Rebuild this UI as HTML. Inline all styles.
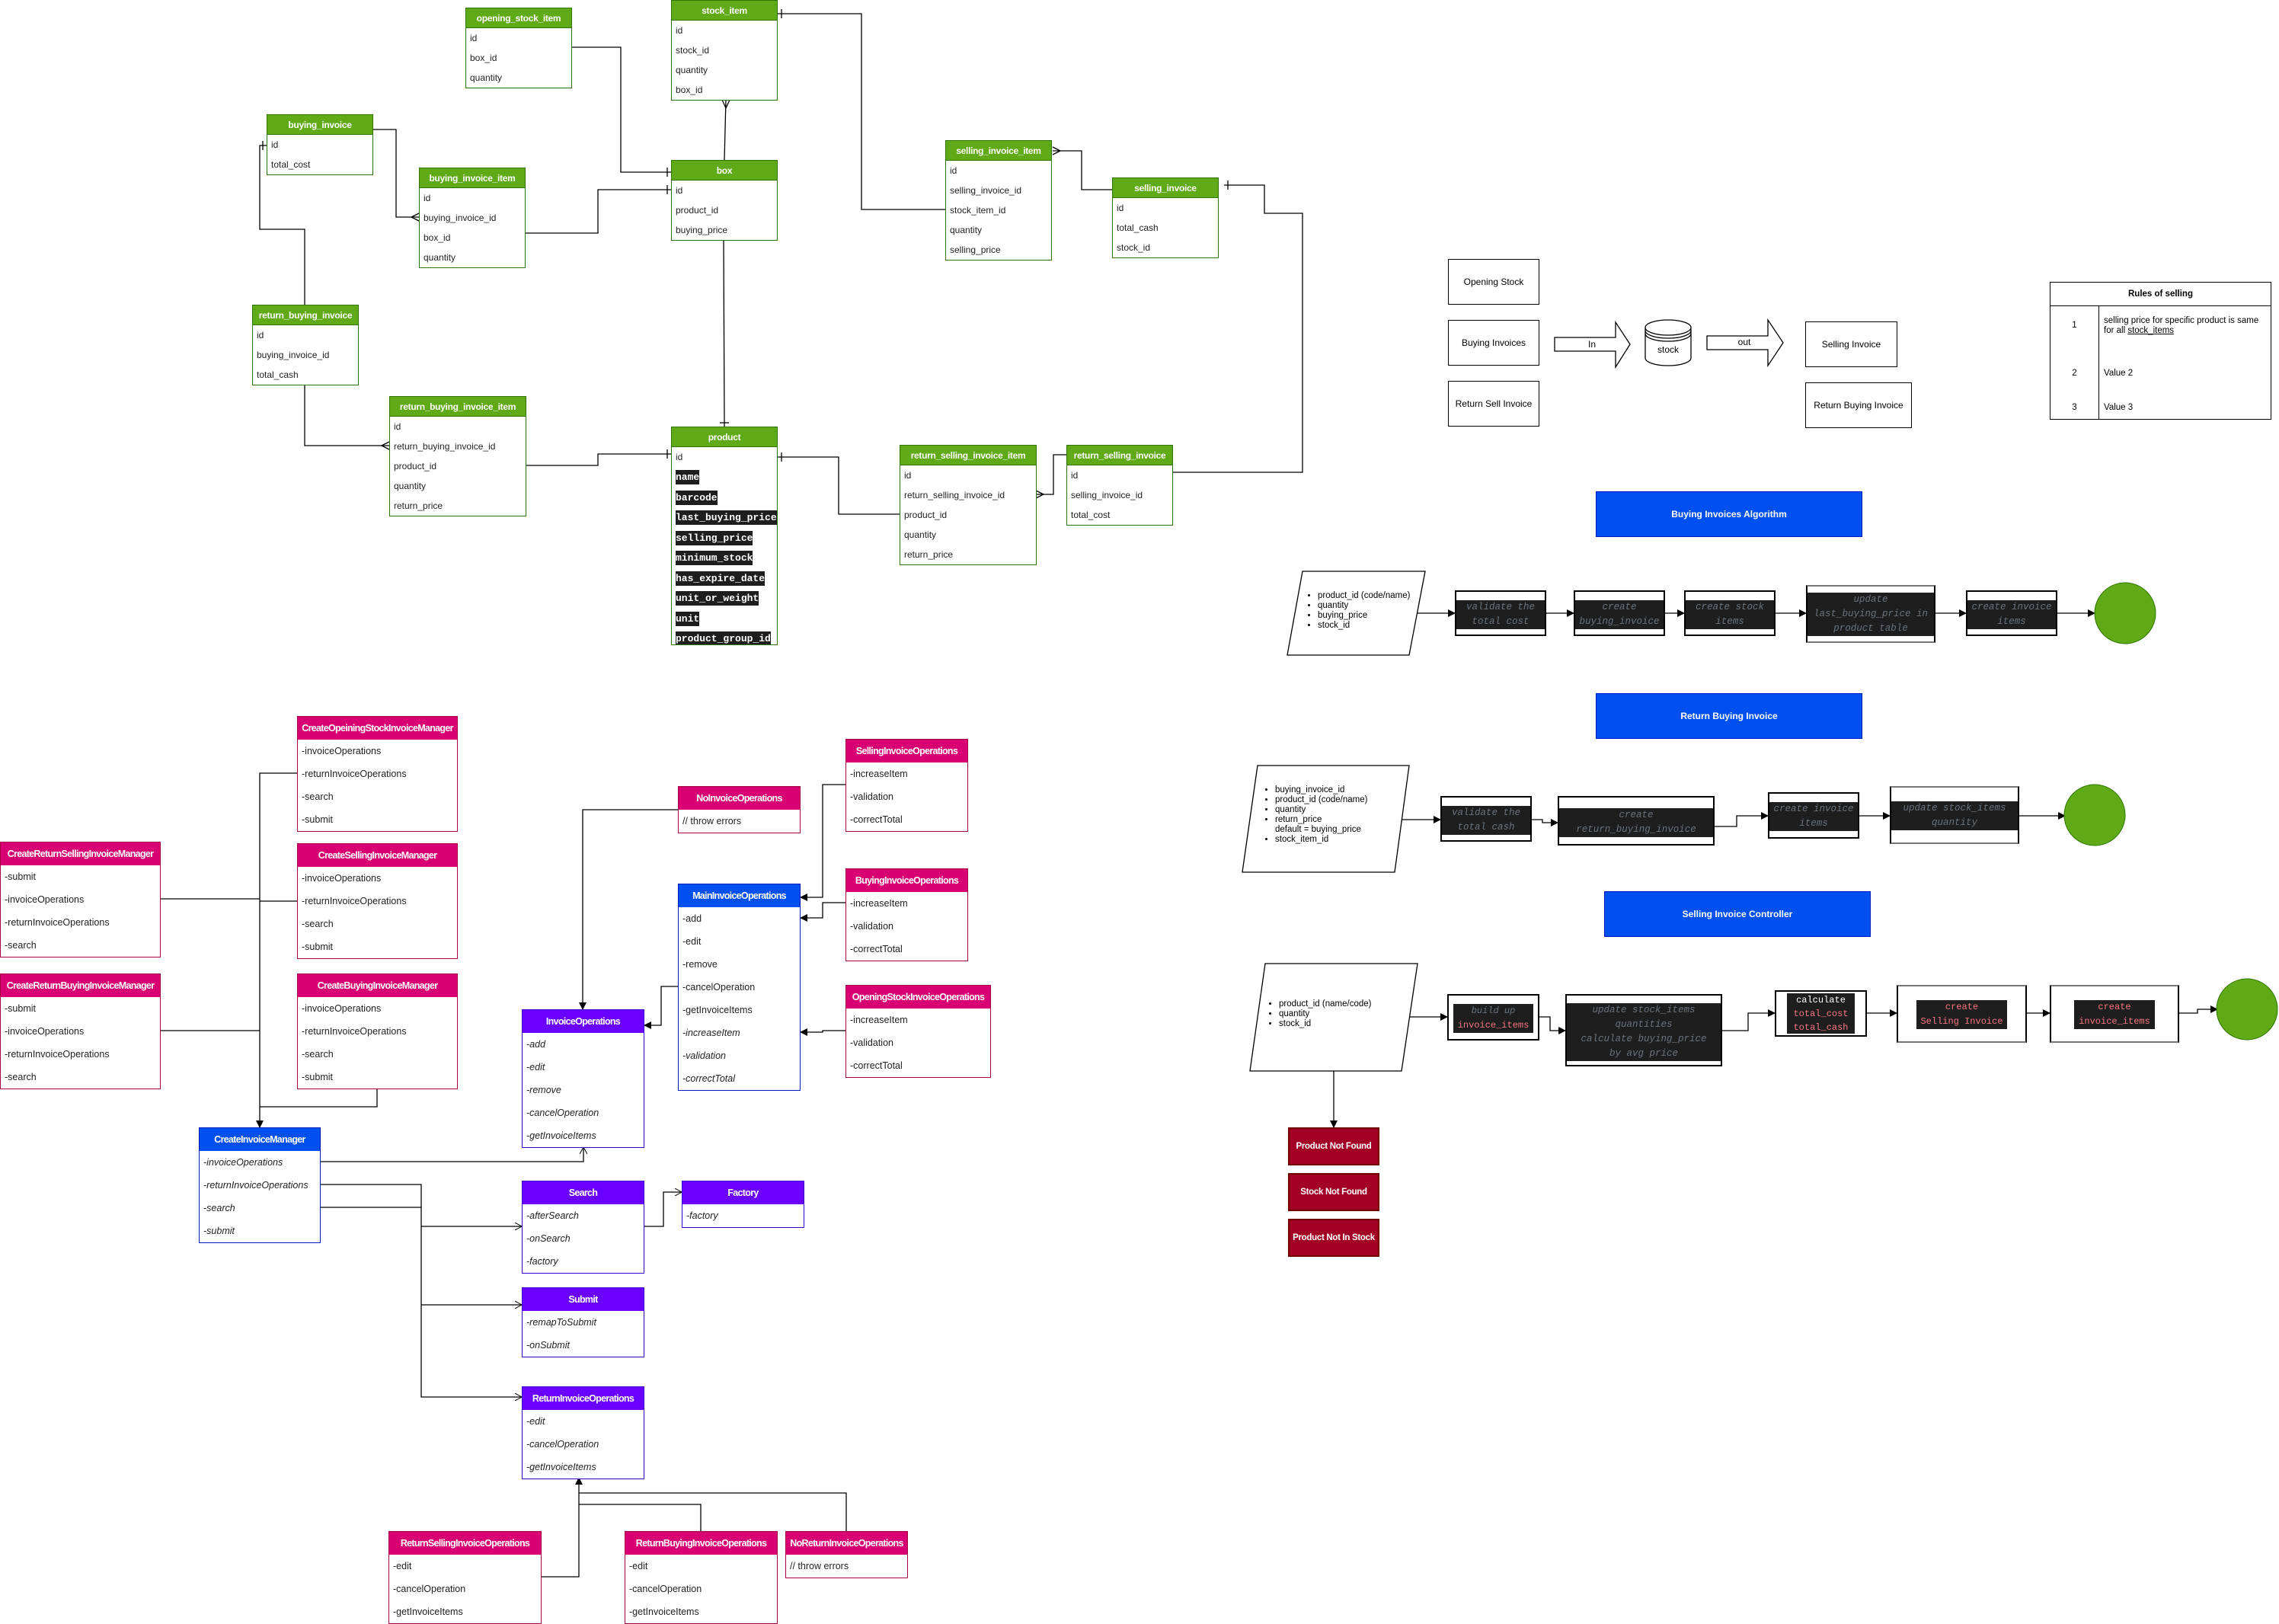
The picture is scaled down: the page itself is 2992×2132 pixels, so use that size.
<!DOCTYPE html>
<html><head><meta charset="utf-8"><style>
body{margin:0;width:2992px;height:2131px;position:relative;background:#fff;font-family:"Liberation Sans",Arial,sans-serif;overflow:hidden}
.a{position:absolute;box-sizing:border-box}
.t{position:absolute;box-sizing:border-box;border:1px solid #2D7600;background:#fff;font-size:12px;color:#222}
.t .h{height:26px;line-height:26px;background:#60a917;color:#fff;font-weight:bold;text-align:center;border-bottom:1px solid #2D7600;box-sizing:border-box;white-space:nowrap;letter-spacing:-0.3px}
.t .r{height:26px;line-height:26px;padding-left:5px;white-space:nowrap}
.t .r span{background:#1e1e1e;color:#fff;font-family:"Liberation Mono",monospace;font-weight:bold;font-size:13px;padding:2px 0}
.c{position:absolute;box-sizing:border-box;border:1px solid;background:#fff;font-size:12.5px;color:#222}
.c .h{height:30px;line-height:30px;color:#fff;font-weight:bold;text-align:center;white-space:nowrap;box-sizing:border-box;font-size:12.5px;letter-spacing:-0.7px;overflow:hidden}
.c .r{height:30px;line-height:30px;padding-left:5px;white-space:nowrap}
.i{font-style:italic}
.m{border-color:#A50040}.m .h{background:#d80073}
.b{border-color:#001DBC}.b .h{background:#0050ef}
.p{border-color:#3700CC}.p .h{background:#6a00ff}
.bx{position:absolute;box-sizing:border-box;border:1px solid #000;background:#fff;display:flex;align-items:center;justify-content:center;text-align:center;font-size:12px}
.fb{position:absolute;box-sizing:border-box;border:2px solid #000;background:#fff}
.fb .d{position:absolute;left:0;right:0;background:#1e1e1e;display:flex;align-items:center;justify-content:center;text-align:center;font-family:"Liberation Mono",monospace;font-style:italic;font-size:12.5px;line-height:22px;color:#6a737d;white-space:nowrap;overflow:hidden}
.blue{position:absolute;box-sizing:border-box;background:#0050ef;border:1px solid #001DBC;color:#fff;font-size:12px;font-weight:bold;display:flex;align-items:center;justify-content:center}
.red{position:absolute;box-sizing:border-box;background:#a20025;border:2px solid #6F0000;color:#fff;font-size:11.5px;font-weight:bold;display:flex;align-items:center;justify-content:center;white-space:nowrap;letter-spacing:-0.3px}
ul{margin:0;padding-left:18px;font-size:11.5px;line-height:13px}
.pk{color:#f97583;font-style:normal}
</style></head><body>

<svg class="a" style="left:0;top:0" width="2992" height="2131">
<defs>
<marker id="f" markerWidth="10" markerHeight="10" refX="9" refY="5" orient="auto" markerUnits="userSpaceOnUse"><path d="M0,0 L10,5 L0,10 z" fill="#000"/></marker>
<marker id="o" markerWidth="10" markerHeight="10" refX="9" refY="5" orient="auto" markerUnits="userSpaceOnUse"><path d="M0,0 L9,5 L0,10" fill="none" stroke="#000"/></marker>
</defs>
<g fill="none" stroke="#000" stroke-width="1.3">
<path d="M750,62 H815 V226 H881"/><path d="M876,220 V232"/>
<path d="M951,210 L953,130"/><path d="M953,142 L948,131 M953,142 L958,131"/>
<path d="M490,170 H520 V285 H550"/><path d="M540,285 L550,280 M540,285 L550,290"/>
<path d="M690,306 H785 V249 H881"/><path d="M876,243 V255"/>
<path d="M400,400 V301 H341 V191 H350"/><path d="M345,185 V197"/>
<path d="M950,314 L951,560"/><path d="M945,555 H957"/>
<path d="M400,504 V585 H511"/><path d="M501,585 L511,580 M501,585 L511,590"/>
<path d="M690,611 H785 V596 H881"/><path d="M876,590 V602"/>
<path d="M1020,600 H1101 V675 H1181"/><path d="M1026,594 V606"/>
<path d="M1400,597 H1383 V649 H1360"/><path d="M1370,649 L1360,644 M1370,649 L1360,654"/>
<path d="M1607,243 H1660 V280 H1710 V620 H1540"/><path d="M1612,237 V249"/>
<path d="M1382,198 H1420 V249 H1460"/><path d="M1392,198 L1382,193 M1392,198 L1382,203"/>
<path d="M1241,275 H1131 V18 H1020"/><path d="M1026,12 V24"/>
<path d="M390,1015 H341 V1480" marker-end="url(#f)"/>
<path d="M211,1180 H341"/><path d="M390,1183 H341"/><path d="M211,1353 H341"/>
<path d="M495,1428 V1453 H341"/>
<path d="M420,1525 H766 V1506" marker-end="url(#o)"/>
<path d="M420,1555 H553 V1834 H685" marker-end="url(#o)"/>
<path d="M420,1585 H553"/>
<path d="M553,1610 H685" marker-end="url(#o)"/>
<path d="M553,1713 H685" marker-end="url(#o)"/>
<path d="M845,1610 H871 V1565 H895" marker-end="url(#o)"/>
<path d="M890,1063 H765 V1325" marker-end="url(#f)"/>
<path d="M890,1295 H868 V1346 H846" marker-end="url(#f)"/>
<path d="M1110,1030 H1080 V1178 H1051" marker-end="url(#f)"/>
<path d="M1110,1185 H1080 V1205 H1051" marker-end="url(#f)"/>
<path d="M1110,1353 H1080 V1355 H1051" marker-end="url(#f)"/>
<path d="M711,2070 H760 V1940" marker-end="url(#f)"/>
<path d="M920,2010 V1975 H760"/>
<path d="M1111,2010 V1960 H760"/>
<path d="M1860,805 H1910" marker-end="url(#f)"/>
<path d="M2030,805 H2066" marker-end="url(#f)"/>
<path d="M2185,805 H2211" marker-end="url(#f)"/>
<path d="M2330,805 H2371" marker-end="url(#f)"/>
<path d="M2540,805 H2581" marker-end="url(#f)"/>
<path d="M2700,805 H2750" marker-end="url(#f)"/>
<path d="M1841,1076 H1891" marker-end="url(#f)"/>
<path d="M2010,1076 H2025 V1080 H2045" marker-end="url(#f)"/>
<path d="M2250,1085 H2280 V1071 H2321" marker-end="url(#f)"/>
<path d="M2440,1071 H2481" marker-end="url(#f)"/>
<path d="M2650,1071 H2711" marker-end="url(#f)"/>
<path d="M1851,1335 H1900" marker-end="url(#f)"/>
<path d="M2020,1335 H2035 V1353 H2055" marker-end="url(#f)"/>
<path d="M2260,1353 H2295 V1330 H2330" marker-end="url(#f)"/>
<path d="M2450,1330 H2490" marker-end="url(#f)"/>
<path d="M2660,1330 H2691" marker-end="url(#f)"/>
<path d="M2860,1330 H2885 V1325 H2911" marker-end="url(#f)"/>
<path d="M1751,1406 V1480" marker-end="url(#f)"/>
</g>
<g fill="#fff" stroke="#000" stroke-width="1.3">
<polygon points="1710,750 1871,750 1850,860 1690,860"/>
<polygon points="1651,1005 1850,1005 1831,1145 1631,1145"/>
<polygon points="1661,1265 1861,1265 1840,1406 1641,1406"/>
<polygon points="2041,443 2121,443 2121,423 2140,452 2121,482 2121,461 2041,461"/>
<polygon points="2241,441 2321,441 2321,420 2341,450 2321,480 2321,459 2241,459"/>
<path d="M2160,430 V470 A30,10 0 0 0 2220,470 V430 A30,10 0 0 0 2160,430 A30,10 0 0 0 2220,430"/>
<path d="M2160,434 A30,10 0 0 0 2220,434 M2160,438 A30,10 0 0 0 2220,438" fill="none"/>
</g>
<g fill="#60a917" stroke="#2D7600">
<ellipse cx="2790" cy="805" rx="40" ry="40"/>
<ellipse cx="2750" cy="1070" rx="40" ry="40"/>
<ellipse cx="2950" cy="1325" rx="40" ry="40"/>
</g>
<g font-family="Liberation Sans, Arial, sans-serif" font-size="12" fill="#000" text-anchor="middle">
<text x="2090" y="456">In</text><text x="2290" y="453">out</text><text x="2190" y="463">stock</text>
</g>
</svg>

<div class="t" style="left:611px;top:10px;width:140px"><div class="h">opening_stock_item</div><div class="r">id</div><div class="r">box_id</div><div class="r">quantity</div></div>
<div class="t" style="left:881px;top:0;width:140px"><div class="h">stock_item</div><div class="r">id</div><div class="r">stock_id</div><div class="r">quantity</div><div class="r">box_id</div></div>
<div class="t" style="left:350px;top:150px;width:140px"><div class="h">buying_invoice</div><div class="r">id</div><div class="r">total_cost</div></div>
<div class="t" style="left:550px;top:220px;width:140px"><div class="h">buying_invoice_item</div><div class="r">id</div><div class="r">buying_invoice_id</div><div class="r">box_id</div><div class="r">quantity</div></div>
<div class="t" style="left:881px;top:210px;width:140px"><div class="h">box</div><div class="r">id</div><div class="r">product_id</div><div class="r">buying_price</div></div>
<div class="t" style="left:331px;top:400px;width:140px"><div class="h">return_buying_invoice</div><div class="r">id</div><div class="r">buying_invoice_id</div><div class="r">total_cash</div></div>
<div class="t" style="left:511px;top:520px;width:180px"><div class="h">return_buying_invoice_item</div><div class="r">id</div><div class="r">return_buying_invoice_id</div><div class="r">product_id</div><div class="r">quantity</div><div class="r">return_price</div></div>
<div class="t" style="left:881px;top:560px;width:140px;height:287px;overflow:hidden"><div class="h">product</div><div class="r">id</div>
<div class="r" style="height:26.5px"><span>name</span></div><div class="r" style="height:26.5px"><span>barcode</span></div><div class="r" style="height:26.5px"><span>last_buying_price</span></div><div class="r" style="height:26.5px"><span>selling_price</span></div><div class="r" style="height:26.5px"><span>minimum_stock</span></div><div class="r" style="height:26.5px"><span>has_expire_date</span></div><div class="r" style="height:26.5px"><span>unit_or_weight</span></div><div class="r" style="height:26.5px"><span>unit</span></div><div class="r" style="height:26.5px"><span>product_group_id</span></div></div>
<div class="t" style="left:1241px;top:184px;width:140px"><div class="h">selling_invoice_item</div><div class="r">id</div><div class="r">selling_invoice_id</div><div class="r">stock_item_id</div><div class="r">quantity</div><div class="r">selling_price</div></div>
<div class="t" style="left:1460px;top:233px;width:140px"><div class="h">selling_invoice</div><div class="r">id</div><div class="r">total_cash</div><div class="r">stock_id</div></div>
<div class="t" style="left:1181px;top:584px;width:180px"><div class="h">return_selling_invoice_item</div><div class="r">id</div><div class="r">return_selling_invoice_id</div><div class="r">product_id</div><div class="r">quantity</div><div class="r">return_price</div></div>
<div class="t" style="left:1400px;top:584px;width:140px"><div class="h">return_selling_invoice</div><div class="r">id</div><div class="r">selling_invoice_id</div><div class="r">total_cost</div></div>

<div class="bx" style="left:1901px;top:340px;width:120px;height:60px">Opening Stock</div>
<div class="bx" style="left:1901px;top:420px;width:120px;height:60px">Buying Invoices</div>
<div class="bx" style="left:1901px;top:500px;width:120px;height:60px">Return Sell Invoice</div>
<div class="bx" style="left:2370px;top:422px;width:121px;height:60px">Selling Invoice</div>
<div class="bx" style="left:2370px;top:502px;width:140px;height:60px">Return Buying Invoice</div>
<div class="a" style="left:2691px;top:370px;width:291px;height:181px;border:1px solid #000;font-size:11.5px">
<div style="height:30px;line-height:30px;text-align:center;border-bottom:1px solid #000;font-weight:bold">Rules of selling</div>
<div class="a" style="left:63px;top:30px;width:1px;height:150px;background:#000"></div>
<div class="a" style="left:0;top:50px;width:63px;text-align:center">1</div>
<div class="a" style="left:70px;top:44px;width:215px;line-height:13px">selling price for specific product is same for all <u>stock_items</u></div>
<div class="a" style="left:0;top:113px;width:63px;text-align:center">2</div><div class="a" style="left:70px;top:113px">Value 2</div>
<div class="a" style="left:0;top:158px;width:63px;text-align:center">3</div><div class="a" style="left:70px;top:158px">Value 3</div>
</div>

<div class="blue" style="left:2095px;top:645px;width:350px;height:60px">Buying Invoices Algorithm</div>
<div class="a" style="left:1712px;top:776px"><ul><li>product_id (code/name)</li><li>quantity</li><li>buying_price</li><li>stock_id</li></ul></div>
<div class="fb" style="left:1910px;top:775px;width:120px;height:60px"><div class="d" style="top:11px;height:38px;line-height:19px"><div>validate the<br>total cost</div></div></div>
<div class="fb" style="left:2066px;top:775px;width:120px;height:60px"><div class="d" style="top:11px;height:38px;line-height:19px"><div>create<br>buying_invoice</div></div></div>
<div class="fb" style="left:2211px;top:775px;width:120px;height:60px"><div class="d" style="top:11px;height:38px;line-height:19px"><div>create stock<br>items</div></div></div>
<div class="fb" style="left:2371px;top:768px;width:170px;height:76px;border-top-color:#777;border-bottom-color:#777"><div class="d" style="top:8px;height:57px;line-height:19px"><div>update<br>last_buying_price in<br>product table</div></div></div>
<div class="fb" style="left:2581px;top:775px;width:120px;height:60px"><div class="d" style="top:11px;height:38px;line-height:19px"><div>create invoice<br>items</div></div></div>

<div class="blue" style="left:2095px;top:910px;width:350px;height:60px">Return Buying Invoice</div>
<div class="a" style="left:1656px;top:1031px"><ul><li>buying_invoice_id</li><li>product_id (code/name)</li><li>quantity</li><li>return_price<br>default = buying_price</li><li>stock_item_id</li></ul></div>
<div class="fb" style="left:1891px;top:1045px;width:120px;height:60px"><div class="d" style="top:11px;height:38px;line-height:19px"><div>validate the<br>total cash</div></div></div>
<div class="fb" style="left:2045px;top:1045px;width:206px;height:65px"><div class="d" style="top:14px;height:38px;line-height:19px"><div>create<br>return_buying_invoice</div></div></div>
<div class="fb" style="left:2321px;top:1040px;width:120px;height:61px"><div class="d" style="top:11px;height:38px;line-height:19px"><div>create invoice<br>items</div></div></div>
<div class="fb" style="left:2481px;top:1032px;width:170px;height:76px;border-top-color:#777;border-bottom-color:#777"><div class="d" style="top:18px;height:38px;line-height:19px"><div>update stock_items<br>quantity</div></div></div>

<div class="blue" style="left:2106px;top:1170px;width:350px;height:60px">Selling Invoice Controller</div>
<div class="a" style="left:1661px;top:1312px"><ul><li>product_id (name/code)</li><li>quantity</li><li>stock_id</li></ul></div>
<div class="fb" style="left:1900px;top:1305px;width:121px;height:61px"><div class="d" style="left:6px;right:6px;top:11px;height:38px;line-height:19px;font-size:12px"><div>build up<br><span class="pk">invoice_items</span></div></div></div>
<div class="fb" style="left:2055px;top:1305px;width:206px;height:95px"><div class="d" style="top:10px;height:76px;line-height:19px"><div>update stock_items<br>quantities<br>calculate buying_price<br>by avg price</div></div></div>
<div class="fb" style="left:2330px;top:1300px;width:121px;height:61px"><div class="d" style="left:14px;right:14px;top:2px;height:53px;line-height:18px;font-style:normal;font-size:12px"><div><span style="color:#fff">calculate</span><br><span class="pk">total_cost</span><br><span class="pk">total_cash</span></div></div></div>
<div class="fb" style="left:2490px;top:1293px;width:171px;height:76px;border-top-color:#777;border-bottom-color:#777"><div class="d" style="left:24px;right:24px;top:18px;height:38px;line-height:19px;font-style:normal;font-size:12px"><div class="pk">create<br>Selling Invoice</div></div></div>
<div class="fb" style="left:2691px;top:1293px;width:170px;height:76px;border-top-color:#777;border-bottom-color:#777"><div class="d" style="left:30px;right:30px;top:18px;height:38px;line-height:19px;font-style:normal;font-size:12px"><div class="pk">create<br>invoice_items</div></div></div>
<div class="red" style="left:1691px;top:1480px;width:120px;height:50px">Product Not Found</div>
<div class="red" style="left:1691px;top:1540px;width:120px;height:50px">Stock Not Found</div>
<div class="red" style="left:1691px;top:1600px;width:120px;height:50px">Product Not In Stock</div>

<div class="c m" style="left:390px;top:940px;width:211px"><div class="h">CreateOpeiningStockInvoiceManager</div><div class="r">-invoiceOperations</div><div class="r">-returnInvoiceOperations</div><div class="r">-search</div><div class="r">-submit</div></div>
<div class="c m" style="left:390px;top:1107px;width:211px"><div class="h">CreateSellingInvoiceManager</div><div class="r">-invoiceOperations</div><div class="r">-returnInvoiceOperations</div><div class="r">-search</div><div class="r">-submit</div></div>
<div class="c m" style="left:390px;top:1278px;width:211px"><div class="h">CreateBuyingInvoiceManager</div><div class="r">-invoiceOperations</div><div class="r">-returnInvoiceOperations</div><div class="r">-search</div><div class="r">-submit</div></div>
<div class="c m" style="left:0;top:1105px;width:211px"><div class="h">CreateReturnSellingInvoiceManager</div><div class="r">-submit</div><div class="r">-invoiceOperations</div><div class="r">-returnInvoiceOperations</div><div class="r">-search</div></div>
<div class="c m" style="left:0;top:1278px;width:211px"><div class="h">CreateReturnBuyingInvoiceManager</div><div class="r">-submit</div><div class="r">-invoiceOperations</div><div class="r">-returnInvoiceOperations</div><div class="r">-search</div></div>
<div class="c b" style="left:261px;top:1480px;width:160px"><div class="h">CreateInvoiceManager</div><div class="r i">-invoiceOperations</div><div class="r i">-returnInvoiceOperations</div><div class="r i">-search</div><div class="r i">-submit</div></div>
<div class="c p" style="left:685px;top:1325px;width:161px"><div class="h">InvoiceOperations</div><div class="r i">-add</div><div class="r i">-edit</div><div class="r i">-remove</div><div class="r i">-cancelOperation</div><div class="r i">-getInvoiceItems</div></div>
<div class="c p" style="left:685px;top:1550px;width:161px"><div class="h">Search</div><div class="r i">-afterSearch</div><div class="r i">-onSearch</div><div class="r i">-factory</div></div>
<div class="c p" style="left:895px;top:1550px;width:161px"><div class="h">Factory</div><div class="r i">-factory</div></div>
<div class="c p" style="left:685px;top:1690px;width:161px"><div class="h">Submit</div><div class="r i">-remapToSubmit</div><div class="r i">-onSubmit</div></div>
<div class="c p" style="left:685px;top:1820px;width:161px"><div class="h">ReturnInvoiceOperations</div><div class="r i">-edit</div><div class="r i">-cancelOperation</div><div class="r i">-getInvoiceItems</div></div>
<div class="c m" style="left:510px;top:2010px;width:201px"><div class="h">ReturnSellingInvoiceOperations</div><div class="r">-edit</div><div class="r">-cancelOperation</div><div class="r">-getInvoiceItems</div></div>
<div class="c m" style="left:820px;top:2010px;width:201px"><div class="h">ReturnBuyingInvoiceOperations</div><div class="r">-edit</div><div class="r">-cancelOperation</div><div class="r">-getInvoiceItems</div></div>
<div class="c m" style="left:1031px;top:2010px;width:161px"><div class="h">NoReturnInvoiceOperations</div><div class="r">// throw errors</div></div>
<div class="c m" style="left:890px;top:1032px;width:161px"><div class="h">NoInvoiceOperations</div><div class="r">// throw errors</div></div>
<div class="c b" style="left:890px;top:1160px;width:161px"><div class="h">MainInvoiceOperations</div><div class="r">-add</div><div class="r">-edit</div><div class="r">-remove</div><div class="r">-cancelOperation</div><div class="r">-getInvoiceItems</div><div class="r i">-increaseItem</div><div class="r i">-validation</div><div class="r i">-correctTotal</div></div>
<div class="c m" style="left:1110px;top:970px;width:161px"><div class="h">SellingInvoiceOperations</div><div class="r">-increaseItem</div><div class="r">-validation</div><div class="r">-correctTotal</div></div>
<div class="c m" style="left:1110px;top:1140px;width:161px"><div class="h">BuyingInvoiceOperations</div><div class="r">-increaseItem</div><div class="r">-validation</div><div class="r">-correctTotal</div></div>
<div class="c m" style="left:1110px;top:1293px;width:191px"><div class="h">OpeningStockInvoiceOperations</div><div class="r">-increaseItem</div><div class="r">-validation</div><div class="r">-correctTotal</div></div>
</body></html>
